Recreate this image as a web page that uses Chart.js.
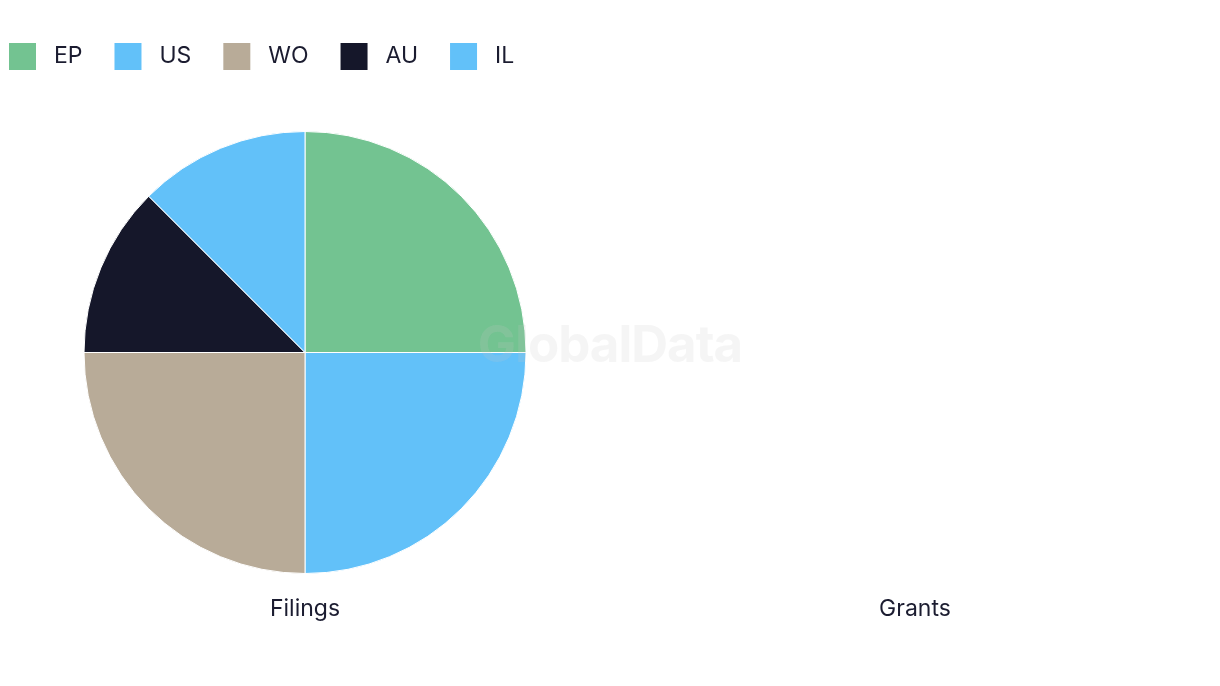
<!DOCTYPE html>
<html>
<head>
<meta charset="utf-8">
<script src="https://cdn.jsdelivr.net/npm/chart.js@4.4.1/dist/chart.umd.min.js"></script>
<style>
  body { margin: 0; background: #fff; }
  #wrap { position: relative; width: 1220px; height: 686px; }
  .half { position: absolute; top: 0; width: 610px; height: 686px; }
  #left { left: 0; }
  #right { left: 610px; }
  #mark {
    position: absolute; left: 0; width: 1220px; top: 313px; text-align: center;
    font-family: Inter, sans-serif; font-weight: 700; font-size: 51px;
    color: rgba(200, 200, 200, 0.18); pointer-events: none; letter-spacing: -1px;
  }
</style>
</head>
<body>
<div id="wrap">
  <div class="half" id="left"><canvas id="filingsChart"></canvas></div>
  <div class="half" id="right"><canvas id="grantsChart"></canvas></div>
  <div id="mark">GlobalData</div>
</div>
<script>
// data
var countries = ['EP', 'US', 'WO', 'AU', 'IL'];
var filings = [2, 2, 2, 1, 1];
var grants = [0, 0, 0, 0, 0];
var colours = ['#73c391', '#62c1f9', '#b8ab98', '#15172a', '#62c1f9'];
var chartTitles = ['Filings', 'Grants'];

var textColour = '#1b1c30';
var baseFont = { family: 'Inter', size: 23 };

// push the pie down under the legend
var legendSpacer = {
    id: 'legendSpacer',
    beforeInit: function(chart) {
        if (!chart.legend) return;
        var origFit = chart.legend.fit;
        chart.legend.fit = function() {
            origFit.bind(chart.legend)();
            this.height += 51;
        };
    }
};

function makePie(id, values, title, showLegend) {
    var ctx = document.getElementById(id).getContext('2d');
    return new Chart(ctx, {
        type: 'pie',
        data: {
            labels: countries,
            datasets: [{
                data: values,
                backgroundColor: colours,
                borderColor: '#ffffff',
                borderWidth: 1
            }]
        },
        options: {
            responsive: true,
            maintainAspectRatio: false,
            animation: false,
            layout: { padding: { top: 11, bottom: 53.4, left: -23, right: -23 } },
            plugins: {
                legend: {
                    display: true,
                    position: 'top',
                    align: 'start',
                    labels: {
                        boxWidth: 27,
                        boxHeight: 27,
                        padding: 32,
                        color: showLegend ? textColour : 'rgba(0,0,0,0)',
                        font: baseFont,
                        generateLabels: function(chart) {
                            var items = Chart.overrides.pie.plugins.legend.labels.generateLabels(chart);
                            items.forEach(function(it, i) {
                                it.text = ' ' + it.text;
                                it.fillStyle = showLegend ? colours[i] : 'rgba(0,0,0,0)';
                                it.strokeStyle = 'rgba(0,0,0,0)';
                                it.lineWidth = 0;
                                it.hidden = false;
                            });
                            return items;
                        }
                    },
                    onClick: function() {}
                },
                title: {
                    display: true,
                    position: 'bottom',
                    text: title,
                    color: textColour,
                    font: { family: 'Inter', size: 23, weight: 'normal' },
                    padding: { top: 21, bottom: 10 }
                },
                tooltip: { enabled: false }
            }
        },
        plugins: [legendSpacer]
    });
}

makePie('filingsChart', filings, chartTitles[0], true);
makePie('grantsChart', grants, chartTitles[1], false);
</script>
</body>
</html>
